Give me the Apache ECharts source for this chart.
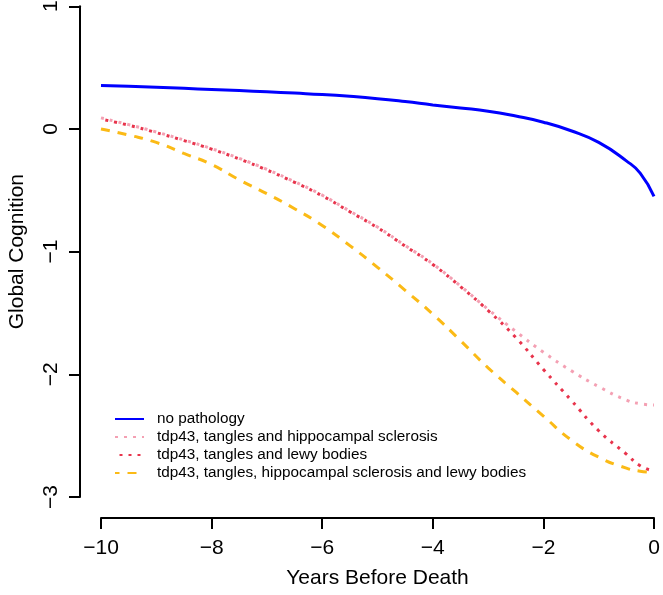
<!DOCTYPE html>
<html>
<head>
<meta charset="utf-8">
<script src="https://cdn.jsdelivr.net/npm/echarts@6/dist/echarts.min.js"></script>
<style>html,body{margin:0;padding:0;background:#fff}#c{width:663px;height:595px}</style>
</head>
<body>
<div id="c"></div>
<script>
var years = [-10, -9.5, -9, -8.5, -8, -7.5, -7, -6.5, -6, -5.5, -5, -4.5, -4, -3.5, -3, -2.5, -2, -1.5, -1, -0.5, -0.25, 0];
var noPathology = [0.355, 0.348, 0.340, 0.331, 0.322, 0.313, 0.303, 0.292, 0.281, 0.266, 0.247, 0.223, 0.196, 0.171, 0.145, 0.105, 0.055, -0.015, -0.11, -0.26, -0.36, -0.55];
var tdpTanglesHS = [0.09, 0.035, -0.025, -0.09, -0.16, -0.24, -0.33, -0.43, -0.54, -0.67, -0.80, -0.95, -1.10, -1.28, -1.47, -1.65, -1.82, -1.97, -2.10, -2.21, -2.24, -2.25];
var tdpTanglesLB = [0.08, 0.03, -0.03, -0.095, -0.165, -0.245, -0.335, -0.435, -0.545, -0.675, -0.805, -0.955, -1.105, -1.285, -1.48, -1.70, -1.96, -2.21, -2.46, -2.65, -2.745, -2.79];
var tdpTanglesHSLB = [0.0, -0.05, -0.11, -0.20, -0.29, -0.415, -0.528, -0.65, -0.787, -0.951, -1.128, -1.315, -1.51, -1.725, -1.947, -2.144, -2.34, -2.535, -2.675, -2.765, -2.79, -2.80];
var seriesNames = ['no pathology', 'tdp43, tangles and hippocampal sclerosis', 'tdp43, tangles and lewy bodies', 'tdp43, tangles, hippocampal sclerosis and lewy bodies'];
var xTickValues = [-10, -8, -6, -4, -2, 0];
var yTickValues = [-3, -2, -1, 0, 1];
var xTitle = 'Years Before Death';
var yTitle = 'Global Cognition';

function pairs(vals) { return years.map(function (y, i) { return [y, vals[i]]; }); }
function fmt(v) { return v < 0 ? '\u2212' + Math.abs(v) : String(v); }
var FONT = '"Liberation Sans", Arial, Helvetica, sans-serif';

var chart = echarts.init(document.getElementById('c'), null, {renderer: 'canvas'});
chart.setOption({
  animation: false,
  backgroundColor: '#ffffff',
  grid: {left: 101, right: 9, top: 6.25, bottom: 98, containLabel: false, outerBoundsMode: 'none'},
  xAxis: {
    type: 'value', min: -10, max: 0, offset: 21,
    name: xTitle, nameLocation: 'middle', nameGap: 50,
    nameTextStyle: {fontSize: 21, color: '#000', fontFamily: FONT},
    axisLine: {show: true, onZero: false, lineStyle: {color: '#000', width: 2}},
    axisTick: {show: true, length: 11, lineStyle: {color: '#000', width: 2}, customValues: xTickValues},
    axisLabel: {fontSize: 21, color: '#000', fontFamily: FONT, margin: 20, customValues: xTickValues, formatter: fmt},
    splitLine: {show: false}
  },
  yAxis: {
    type: 'value', min: -3, max: 1, offset: 21,
    name: yTitle, nameLocation: 'middle', nameGap: 52, nameRotate: 90,
    nameTextStyle: {fontSize: 21, color: '#000', fontFamily: FONT},
    axisLine: {show: true, onZero: false, lineStyle: {color: '#000', width: 2}},
    axisTick: {show: true, length: 11, lineStyle: {color: '#000', width: 2}, customValues: yTickValues},
    axisLabel: {fontSize: 21, color: '#000', fontFamily: FONT, margin: 18, rotate: 90, customValues: yTickValues, formatter: fmt},
    splitLine: {show: false}
  },
  legend: {
    orient: 'vertical', left: 114, top: 410, padding: 0,
    itemWidth: 29, itemHeight: 14, itemGap: 0,
    itemStyle: {opacity: 0},
    textStyle: {fontSize: 15.3, lineHeight: 18, color: '#000', fontFamily: FONT, padding: [0, 0, 0, 8]},
    data: seriesNames
  },
  series: [
    {name: seriesNames[0], type: 'line', smooth: true, symbol: 'none', data: pairs(noPathology),
     lineStyle: {color: '#0000ff', width: 3}, itemStyle: {color: '#0000ff'}},
    {name: seriesNames[1], type: 'line', smooth: true, symbol: 'none', data: pairs(tdpTanglesHS),
     lineStyle: {color: '#f4a0b3', width: 3, type: [3, 6], cap: 'butt'}, itemStyle: {color: '#f4a0b3'}},
    {name: seriesNames[2], type: 'line', smooth: true, symbol: 'none', data: pairs(tdpTanglesLB),
     lineStyle: {color: '#e8344c', width: 3, type: [3, 6], cap: 'butt', dashOffset: 4.5}, itemStyle: {color: '#e8344c'}},
    {name: seriesNames[3], type: 'line', smooth: true, symbol: 'none', data: pairs(tdpTanglesHSLB),
     lineStyle: {color: '#fbba16', width: 3, type: [9, 8], cap: 'butt'}, itemStyle: {color: '#fbba16'}}
  ]
});
</script>
</body>
</html>
